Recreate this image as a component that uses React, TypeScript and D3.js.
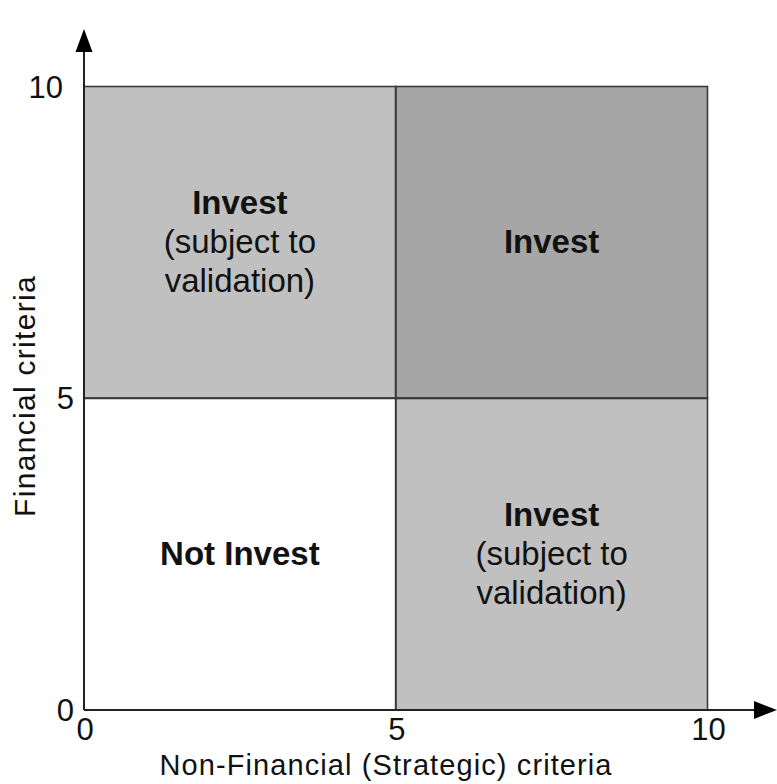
import React from "react";
import * as d3 from "d3";

const W = 777;
const H = 784;

const xTicks = [0, 5, 10];
const yTicks = [0, 5, 10];
const xTitle = "Non-Financial (Strategic) criteria";
const yTitle = "Financial criteria";

// quadrants: x range, y range (data units), shade level, label lines
const quadX0 = [0, 5, 0, 5];
const quadX1 = [5, 10, 5, 10];
const quadY0 = [5, 5, 0, 0];
const quadY1 = [10, 10, 5, 5];
const quadShade = ["light", "dark", "none", "light"];
const quadBold = ["Invest", "Invest", "Not Invest", "Invest"];
const quadSub = [["(subject to", "validation)"], [], [], ["(subject to", "validation)"]];

const shadeColor: Record<string, string> = { light: "#c0c0c0", dark: "#a6a6a6", none: "#ffffff" };

export default function App() {
  const x = d3.scaleLinear().domain([0, 10]).range([84, 707.5]);
  const y = d3.scaleLinear().domain([0, 10]).range([710, 86.5]);
  const font = "'Liberation Sans', Arial, sans-serif";
  const textColor = "#111";
  const lineH = 39;

  return (
    <svg width={W} height={H} style={{ position: "absolute", left: 0, top: 0, background: "#fff" }}>
      {quadX0.map((_, i) => {
        const x0 = x(quadX0[i]), x1 = x(quadX1[i]);
        const y0 = y(quadY1[i]), y1 = y(quadY0[i]);
        const cx = (x0 + x1) / 2;
        const cy = (y0 + y1) / 2;
        const lines = [quadBold[i], ...quadSub[i]];
        const n = lines.length;
        const firstBase = cy + 11 - ((n - 1) / 2) * lineH;
        return (
          <g key={i}>
            <rect x={x0} y={y0} width={x1 - x0} height={y1 - y0} fill={shadeColor[quadShade[i]]}
              stroke={quadShade[i] === "none" ? "none" : "#3a3a3a"} strokeWidth={1.6} />
            {lines.map((t, j) => (
              <text key={j} x={cx} y={firstBase + j * lineH} textAnchor="middle" fontFamily={font}
                fontSize={33} fontWeight={j === 0 ? "bold" : "normal"} fill={textColor}>{t}</text>
            ))}
          </g>
        );
      })}
      {/* mid lines */}
      <line x1={x(5)} x2={x(5)} y1={y(10)} y2={y(0)} stroke="#3a3a3a" strokeWidth={1.8} />
      <line x1={x(0)} x2={x(10)} y1={y(5)} y2={y(5)} stroke="#3a3a3a" strokeWidth={1.8} />
      {/* axes */}
      <line x1={x(0)} x2={757} y1={y(0)} y2={y(0)} stroke="#222" strokeWidth={2} />
      <line x1={x(0)} x2={x(0)} y1={y(0)} y2={50} stroke="#222" strokeWidth={2} />
      <path d={`M${x(0)},29 L${x(0) - 8.5},52 L${x(0) + 8.5},52 Z`} fill="#000" />
      <path d={`M777,${y(0)} L754,${y(0) - 9} L754,${y(0) + 9} Z`} fill="#000" />
      {/* x ticks */}
      {xTicks.map((t) => (
        <text key={t} x={x(t) + 1} y={740} textAnchor="middle" fontFamily={font} fontSize={31} fill={textColor}>{t}</text>
      ))}
      {/* y ticks */}
      {yTicks.map((t) => (
        <text key={t} x={String(t).length > 1 ? 63 : 74} y={y(t) + 11} textAnchor="end" fontFamily={font} fontSize={31} fill={textColor}>{t}</text>
      ))}
      <text x={386} y={775} textAnchor="middle" fontFamily={font} fontSize={29} letterSpacing={1.1} fill={textColor}>{xTitle}</text>
      <text transform={`translate(35,396) rotate(-90)`} textAnchor="middle" fontFamily={font} fontSize={30} letterSpacing={1.3} fill={textColor}>{yTitle}</text>
    </svg>
  );
}
